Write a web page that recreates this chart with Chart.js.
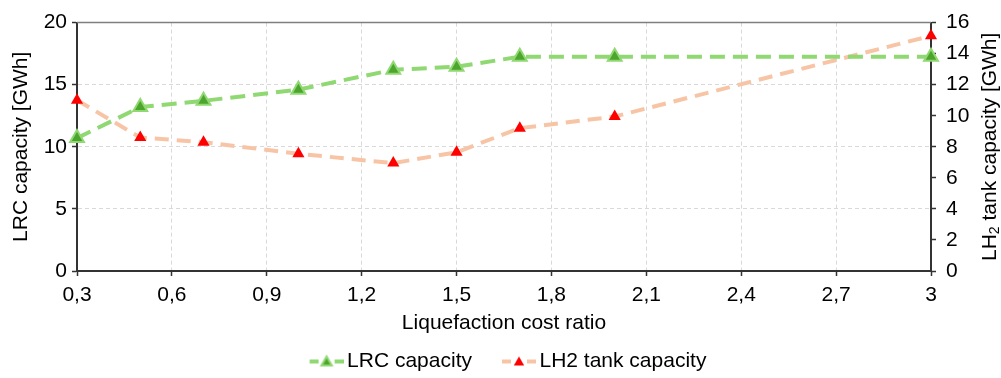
<!DOCTYPE html>
<html>
<head>
<meta charset="utf-8">
<script src="https://cdn.jsdelivr.net/npm/chart.js@4.4.1/dist/chart.umd.min.js"></script>
<style>
  html, body { margin: 0; padding: 0; background: #fff; }
</style>
</head>
<body>
<canvas id="chart" width="1001" height="378"></canvas>
<script>
// values
const costRatio = [0.3, 0.5, 0.7, 1.0, 1.3, 1.5, 1.7, 2.0, 3.0];
const lrcCapacity = [10.7, 13.2, 13.7, 14.6, 16.2, 16.45, 17.25, 17.25, 17.25];
const lh2Capacity = [11.0, 8.6, 8.3, 7.55, 6.95, 7.65, 9.2, 9.95, 15.15];

const xTicks = [0.3, 0.6, 0.9, 1.2, 1.5, 1.8, 2.1, 2.4, 2.7, 3];
const leftTicks = [0, 5, 10, 15, 20];
const rightTicks = [0, 2, 4, 6, 8, 10, 12, 14, 16];

const FONT = '"Liberation Sans", Arial, sans-serif';
const FS = 21;
Chart.defaults.font.family = FONT;
Chart.defaults.font.size = FS;
Chart.defaults.color = '#000';

const GREEN = '#8fd872';
const GREEN_DARK = '#4ca52c';
const PEACH = '#f7c5a5';
const RED = '#ff0000';
const AXIS = '#333333';

// legend swatch: dash - triangle - dash, drawn in the right part of a wider canvas
function legendIcon(lineColor, fill, border, r) {
  const c = document.createElement('canvas');
  c.width = 56; c.height = 22;
  const g = c.getContext('2d');
  const ox = 22;
  g.strokeStyle = lineColor;
  g.lineWidth = 4;
  g.beginPath();
  g.moveTo(ox, 11); g.lineTo(ox + 9, 11);
  g.moveTo(ox + 25, 11); g.lineTo(ox + 34, 11);
  g.stroke();
  g.beginPath();
  for (let i = 0; i < 3; i++) {
    const a = i * 2 * Math.PI / 3;
    const px = ox + 17 + Math.sin(a) * r, py = 12 - Math.cos(a) * r;
    i ? g.lineTo(px, py) : g.moveTo(px, py);
  }
  g.closePath();
  g.fillStyle = fill;
  g.fill();
  if (border) { g.strokeStyle = border; g.lineWidth = 2; g.stroke(); }
  return c;
}

const icons = [legendIcon(GREEN, GREEN_DARK, GREEN, 6), legendIcon(PEACH, RED, null, 6)];

const sideTitle = {
  id: 'sideTitle',
  beforeDatasetsDraw(chart) {
    const { ctx, chartArea } = chart;
    ctx.save();
    ctx.strokeStyle = '#7f7f7f';
    ctx.lineWidth = 1.5;
    ctx.beginPath();
    ctx.moveTo(chartArea.left, chartArea.top);
    ctx.lineTo(chartArea.right, chartArea.top);
    ctx.stroke();
    ctx.restore();
  },
  afterDraw(chart) {
    const { ctx, chartArea } = chart;
    const parts = [['LH', FS, 0], ['2', 14, 5], [' tank capacity [GWh]', FS, 0]];
    ctx.save();
    ctx.translate(990, (chartArea.top + chartArea.bottom) / 2);
    ctx.rotate(-Math.PI / 2);
    ctx.fillStyle = '#000';
    ctx.textBaseline = 'middle';
    let total = 0;
    parts.forEach(p => { ctx.font = p[1] + 'px ' + FONT; total += ctx.measureText(p[0]).width; });
    let x = -total / 2;
    parts.forEach(p => {
      ctx.font = p[1] + 'px ' + FONT;
      ctx.fillText(p[0], x, p[2]);
      x += ctx.measureText(p[0]).width;
    });
    ctx.restore();
  }
};

new Chart(document.getElementById('chart'), {
  type: 'line',
  data: {
    datasets: [
      {
        label: 'LRC capacity',
        data: costRatio.map((x, i) => ({ x, y: lrcCapacity[i] })),
        yAxisID: 'y',
        borderColor: GREEN,
        borderWidth: 4,
        borderDash: [15, 8],
        pointStyle: 'triangle',
        pointRadius: 8,
        pointBorderWidth: 2,
        pointBackgroundColor: GREEN_DARK,
        pointBorderColor: GREEN,
        clip: false
      },
      {
        label: 'LH2 tank capacity',
        data: costRatio.map((x, i) => ({ x, y: lh2Capacity[i] })),
        yAxisID: 'y2',
        borderColor: PEACH,
        borderWidth: 4,
        borderDash: [14, 8],
        pointStyle: 'triangle',
        pointRadius: 7,
        pointBorderWidth: 0,
        pointBackgroundColor: RED,
        pointBorderColor: RED,
        clip: false
      }
    ]
  },
  options: {
    responsive: false,
    animation: false,
    layout: { padding: { top: 20, left: 0, right: 0, bottom: -4 } },
    plugins: {
      tooltip: { enabled: false },
      legend: {
        position: 'bottom',
        labels: {
          usePointStyle: true,
          pointStyleWidth: 42,
          padding: 15,
          color: '#000',
          font: { size: FS },
          generateLabels(chart) {
            const items = Chart.defaults.plugins.legend.labels.generateLabels(chart);
            items.forEach((it, i) => { it.pointStyle = icons[i]; });
            return items;
          }
        }
      }
    },
    scales: {
      x: {
        type: 'linear',
        min: 0.3,
        max: 3,
        afterBuildTicks(s) { s.ticks = xTicks.map(v => ({ value: v })); },
        afterFit(s) { s.height = 65; },
        ticks: { padding: 7, callback: v => String(v).replace('.', ',') },
        grid: { color: '#d9d9d9', lineWidth: 1, tickLength: 5, tickColor: AXIS, tickWidth: 1.5 },
        border: { color: AXIS, width: 2, dash: [4, 3] },
        title: { display: true, text: 'Liquefaction cost ratio', padding: { top: 0, bottom: 0 } }
      },
      y: {
        position: 'left',
        min: 0,
        max: 20,
        afterBuildTicks(s) { s.ticks = leftTicks.map(v => ({ value: v })); },
        afterFit(s) { s.width = 77; },
        ticks: { padding: 5 },
        grid: {
          color: c => (c.tick && c.tick.value === 20) ? 'rgba(0,0,0,0)' : '#d9d9d9',
          tickLength: 5, tickColor: AXIS, tickWidth: 1.5
        },
        border: { color: AXIS, width: 2, dash: [4, 3] },
        title: { display: true, text: 'LRC capacity [GWh]', padding: { top: 9, bottom: 0 } }
      },
      y2: {
        position: 'right',
        min: 0,
        max: 16,
        afterBuildTicks(s) { s.ticks = rightTicks.map(v => ({ value: v })); },
        afterFit(s) { s.width = 70; },
        ticks: { padding: 10 },
        grid: { drawOnChartArea: false, tickLength: 5, tickColor: AXIS, tickWidth: 1.5 },
        border: { color: AXIS, width: 2 }
      }
    }
  },
  plugins: [sideTitle]
});
</script>
</body>
</html>
